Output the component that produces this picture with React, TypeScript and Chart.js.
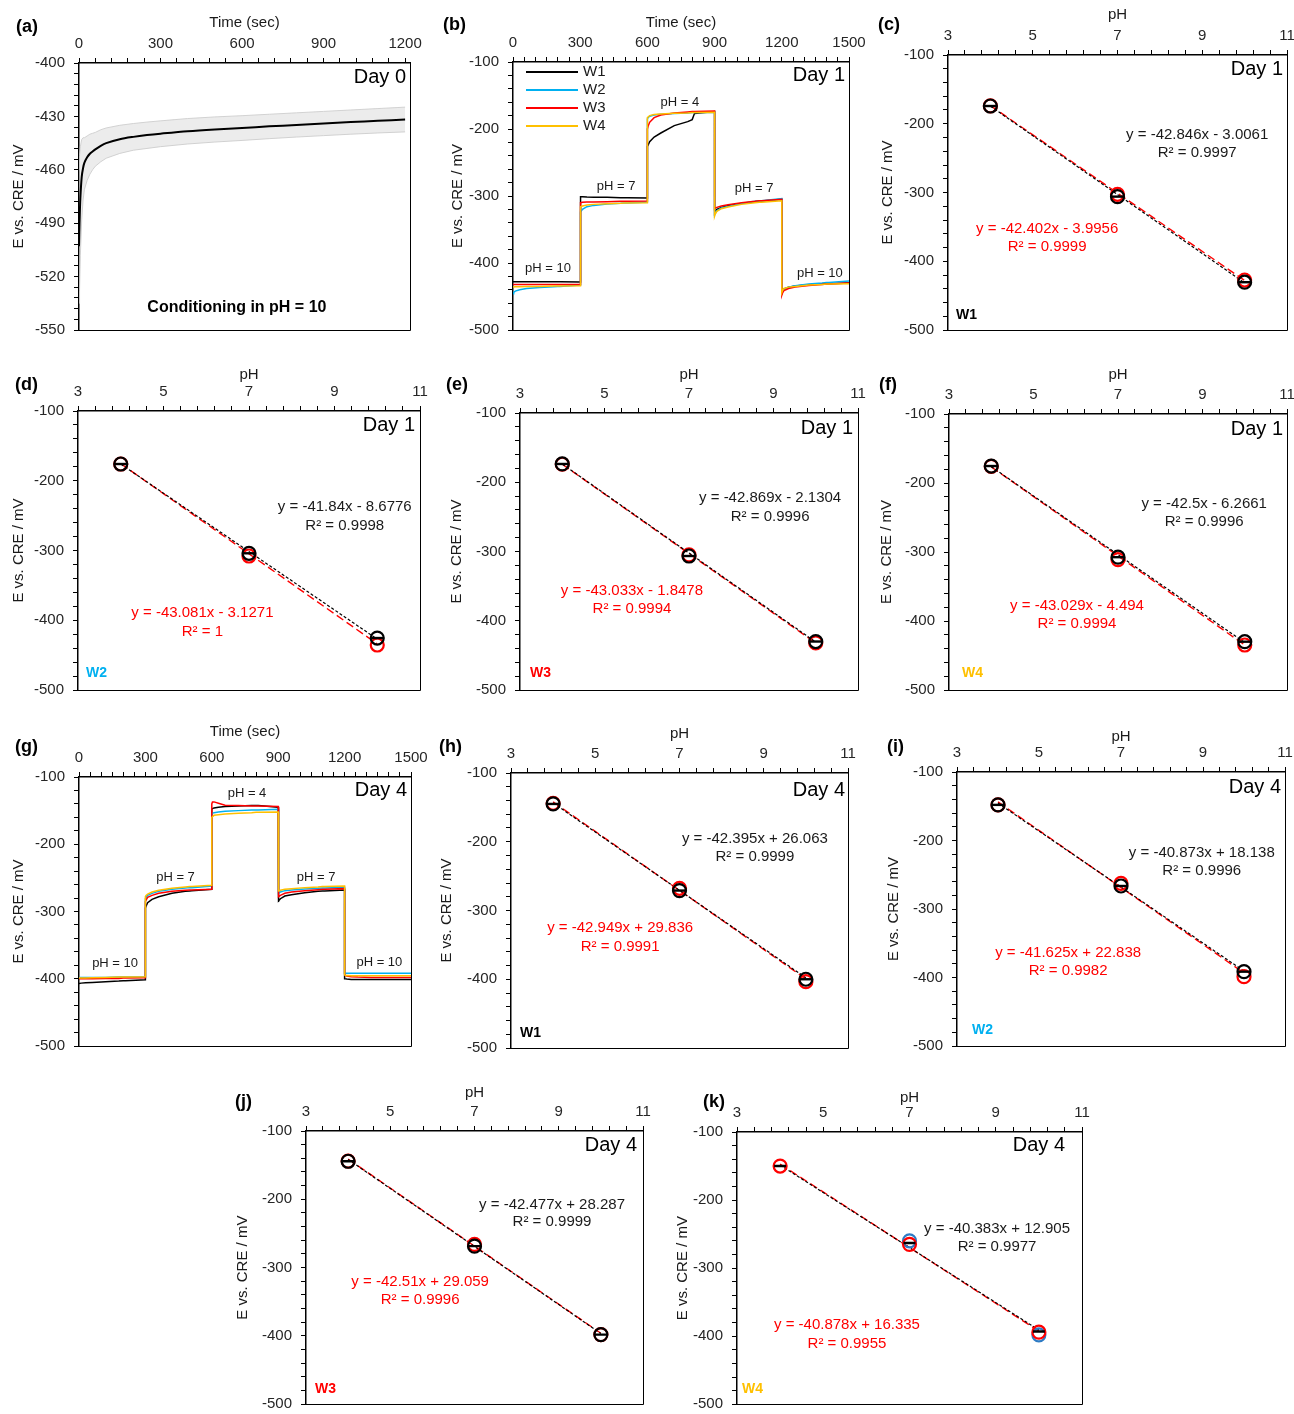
import React, { useEffect, useRef } from "react";
import { Chart, registerables } from "chart.js";

Chart.register(...registerables);

const FONT = "Arial, 'Liberation Sans', Helvetica, sans-serif";
const INK = "#1a1a1a";
const TICK_INK = "#262626";
const RED = "#ff0000";
const W_COLORS = ["#000000", "#00b0f0", "#ff0000", "#ffc000"];
const W_NAMES = ["W1", "W2", "W3", "W4"];
const BLUE_MARK = "#2e7bc4";

// ---------- (a) conditioning, Day 0 ----------
const A_TIME = [0, 2, 5, 10, 15, 20, 30, 40, 50, 60, 80, 100, 150, 200, 250, 300, 400, 500, 600, 700, 800, 900, 1000, 1100, 1200];
const A_MEAN = [-503, -490, -476, -464, -459, -456, -453, -451, -449.7, -448.5, -446.5, -445, -442.8, -441.5, -440.5, -439.7, -438.3, -437.3, -436.5, -435.6, -434.8, -434, -433.2, -432.5, -431.8];
const A_UPPER = [-460, -452, -447, -443, -442, -442, -441, -440, -439.5, -439, -437.5, -436.5, -435, -434, -433.2, -432.5, -431.2, -430.3, -429.6, -428.8, -428, -427.2, -426.4, -425.6, -424.8];
const A_LOWER = [-535, -528, -508, -488, -477, -471, -466, -462.5, -460, -458, -455.5, -453.5, -450.8, -449, -448, -447, -445.5, -444.4, -443.5, -442.5, -441.6, -440.8, -440, -439.3, -438.7];

// ---------- (b) / (g) pH step series ----------
const STEP_TIME = [
  0, 3, 10, 30, 60, 120, 180, 200, 210, 300,
  300, 303, 310, 330, 360, 420, 480, 500, 510, 600,
  600, 603, 610, 630, 660, 720, 780, 800, 810, 900,
  900, 903, 910, 930, 960, 1020, 1080, 1100, 1110, 1200,
  1200, 1203, 1210, 1230, 1260, 1320, 1380, 1400, 1410, 1500,
];
const B_W1 = [
  -428, -428, -428, -428, -428, -428, -428, -428, -428, -428.5,
  -301, -301, -301, -301.5, -302, -302, -302.5, -302.5, -302.5, -303,
  -226, -224, -219, -212, -206, -195, -189, -186, -177, -174,
  -325, -323, -320, -317, -314.5, -311, -308.5, -307.5, -307.5, -305,
  -443, -441, -438.5, -436, -434.5, -432.5, -431.5, -431, -431, -430,
];
const B_W2 = [
  -446, -444, -442, -440, -438, -436.5, -435.5, -435, -435, -433,
  -326, -324, -320, -316, -314, -312, -311, -310.5, -310.5, -309,
  -185, -183, -181, -179, -178, -177, -176, -175.5, -175.5, -175,
  -328, -326, -322, -318, -315.5, -311, -308, -307, -307, -304,
  -445, -442, -439, -436, -434, -431.5, -430, -429, -429, -427,
];
const B_W3 = [
  -432, -432, -432, -432, -432, -432, -432, -432, -432, -432,
  -310, -310, -309.5, -309, -309, -308.5, -308, -308, -308, -307.5,
  -200, -196, -190, -183, -179, -176, -174.5, -174, -174, -173,
  -319, -318, -317, -315, -313, -310, -308, -307, -307, -305,
  -448, -445, -441, -438, -436, -433.5, -432, -431.5, -431.5, -430,
];
const B_W4 = [
  -436, -436, -435.5, -435.5, -435, -435, -434.5, -434.5, -434.5, -434,
  -317, -316, -315, -313.5, -312.5, -311.5, -311, -310.5, -310.5, -310,
  -183, -182, -180, -178.5, -177.5, -176.5, -176, -175.5, -175.5, -175,
  -330, -327, -323, -319, -316.5, -312.5, -310, -309.5, -309.5, -307,
  -444, -441, -438, -436, -435, -433, -432, -431.5, -431.5, -431,
];
const G_W1 = [
  -407, -407, -406.5, -406, -405.5, -404.5, -403.5, -403, -403, -401.5,
  -295, -292, -287, -282, -278, -273, -270, -269.5, -269, -267,
  -148, -147, -146, -145, -144, -143, -142.5, -142.5, -142.5, -145,
  -286, -284, -281, -277, -275, -272, -270, -269.5, -269.5, -268,
  -400, -400, -400.5, -401, -401, -401, -401, -401, -401, -401,
];
const G_W2 = [
  -398, -398, -398, -398, -398, -398, -397.5, -397.5, -397.5, -397,
  -281, -279, -276, -273, -270, -267, -265, -264.5, -264.5, -262,
  -155, -154, -153, -152, -151, -150, -149, -149, -149, -148,
  -274, -273, -271, -269, -268, -266.5, -265.5, -265, -265, -264,
  -392, -392, -392, -392, -392, -392, -392, -392, -392, -392,
];
const G_W3 = [
  -400, -400, -400, -400, -400, -399.5, -399.5, -399, -399, -398.5,
  -285, -283, -279, -276, -273, -270, -268.5, -268, -268, -267,
  -140, -137, -137, -139, -142, -142.5, -143, -143, -143, -144,
  -279, -278, -276, -273, -271, -269, -267.5, -267, -267, -266,
  -393, -395, -396, -397, -397.5, -398, -398, -398, -398, -398,
];
const G_W4 = [
  -399, -399, -399, -399, -398.5, -398, -397.5, -397.5, -397.5, -397,
  -278, -276, -274, -271, -268.5, -265.5, -263.5, -263, -263, -261,
  -160, -159, -157, -156, -155, -154, -153, -152.5, -152.5, -152,
  -270, -269.5, -268.5, -267, -266, -264.5, -263.5, -263, -263, -262,
  -394, -395, -395, -395.5, -395.5, -395.5, -395.5, -395.5, -395.5, -395.5,
];

// ---------- calibration panels ----------
const PH_LEVELS = [4, 7, 10];
const FIT_X = [4, 10];
const K_BLUE_X = [7, 10];

const C_BLACK = [-174.2, -306, -430.5];
const C_RED = [-174, -302.6, -427.3];
const C_FIT_BLACK = [-174.4, -431.5];
const C_FIT_RED = [-173.6, -428.0];
const C_EQ_BLACK = ["y = -42.846x - 3.0061", "R² = 0.9997"];
const C_EQ_RED = ["y = -42.402x - 3.9956", "R² = 0.9999"];

const D_BLACK = [-176, -304, -425.5];
const D_RED = [-176, -307.9, -435.5];
const D_FIT_BLACK = [-176.0, -427.1];
const D_FIT_RED = [-175.5, -433.9];
const D_EQ_BLACK = ["y = -41.84x - 8.6776", "R² = 0.9998"];
const D_EQ_RED = ["y = -43.081x - 3.1271", "R² = 1"];

const E_BLACK = [-173.6, -306.5, -430];
const E_RED = [-174, -305, -432];
const E_FIT_BLACK = [-173.6, -430.8];
const E_FIT_RED = [-174.0, -432.2];
const E_EQ_BLACK = ["y = -42.869x - 2.1304", "R² = 0.9996"];
const E_EQ_RED = ["y = -43.033x - 1.8478", "R² = 0.9994"];

const F_BLACK = [-175.4, -307.5, -430];
const F_RED = [-176, -311, -434.8];
const F_FIT_BLACK = [-176.3, -431.3];
const F_FIT_RED = [-176.6, -434.8];
const F_EQ_BLACK = ["y = -42.5x - 6.2661", "R² = 0.9996"];
const F_EQ_RED = ["y = -43.029x - 4.494", "R² = 0.9994"];

const H_BLACK = [-145, -271, -400];
const H_RED = [-144, -267.7, -403.5];
const H_FIT_BLACK = [-143.5, -397.9];
const H_FIT_RED = [-142.0, -399.6];
const H_EQ_BLACK = ["y = -42.395x + 26.063", "R² = 0.9999"];
const H_EQ_RED = ["y = -42.949x + 29.836", "R² = 0.9991"];

const I_BLACK = [-148, -266.4, -391.5];
const I_RED = [-148, -262.5, -398.8];
const I_FIT_BLACK = [-145.4, -390.6];
const I_FIT_RED = [-143.7, -393.4];
const I_EQ_BLACK = ["y = -40.873x + 18.138", "R² = 0.9996"];
const I_EQ_RED = ["y = -41.625x + 22.838", "R² = 0.9982"];

const J_BLACK = [-144.3, -268.5, -398];
const J_RED = [-144, -266, -398];
const J_FIT_BLACK = [-141.6, -396.5];
const J_FIT_RED = [-141.0, -396.0];
const J_EQ_BLACK = ["y = -42.477x + 28.287", "R² = 0.9999"];
const J_EQ_RED = ["y = -42.51x + 29.059", "R² = 0.9996"];

const K_BLACK = [-150, -263, -393];
const K_RED = [-150, -265, -394];
const K_BLUE = [-260, -398];
const K_FIT_BLACK = [-148.6, -390.9];
const K_FIT_RED = [-147.2, -392.5];
const K_EQ_BLACK = ["y = -40.383x + 12.905", "R² = 0.9977"];
const K_EQ_RED = ["y = -40.878x + 16.335", "R² = 0.9955"];

// ---------- layout helpers ----------
const ML = 80, MT = 62, MR = 20, MB = 12;

type AxisSpec = { min: number; max: number; major: number; minor: number; title: string; titleD: number };

const T = (text: string, at: string, x: number, y: number, color: string, size: number, bold = false, align: CanvasTextAlign = "center") =>
  ({ kind: "text", text, at, x, y, color, size, bold, align });

function axisOptions(ax: AxisSpec, pos: "top" | "left", size: number) {
  const horizontal = pos === "top";
  return {
    type: "linear",
    position: pos,
    min: ax.min,
    max: ax.max,
    afterBuildTicks: (scale: any) => {
      const out: any[] = [];
      const n = Math.floor((ax.max - ax.min) / ax.minor + 1e-6);
      for (let i = 0; i <= n; i++) out.push({ value: +(ax.min + i * ax.minor).toFixed(6) });
      scale.ticks = out;
    },
    afterFit: (scale: any) => {
      if (horizontal) scale.height = size;
      else scale.width = size;
      scale.paddingLeft = 0;
      scale.paddingRight = 0;
      scale.paddingTop = 0;
      scale.paddingBottom = 0;
    },
    ticks: {
      autoSkip: false,
      maxRotation: 0,
      minRotation: 0,
      padding: horizontal ? 5 : 9,
      color: TICK_INK,
      font: { family: FONT, size: 15 },
      callback: (v: any) => {
        const k = (Number(v) - ax.min) / ax.major;
        return Math.abs(k - Math.round(k)) < 1e-6 ? String(Math.round(Number(v) * 1000) / 1000) : "";
      },
    },
    grid: { display: true, drawOnChartArea: false, drawTicks: true, tickLength: 5, color: "#000", lineWidth: 1 },
    border: { display: true, color: "#000", width: 1.5 },
    title: {
      display: true,
      text: ax.title,
      color: INK,
      font: { family: FONT, size: 15 },
      padding: { top: size - ax.titleD - 9, bottom: 0 },
    },
  };
}

function overlayPlugin(items: any[]) {
  return {
    id: "overlay",
    afterDraw(chart: any) {
      const { ctx, chartArea: a, scales } = chart;
      ctx.save();
      ctx.strokeStyle = "#000";
      ctx.lineWidth = 1;
      const r = Math.round(a.right) + 0.5;
      const b = Math.round(a.bottom) + 0.5;
      ctx.beginPath();
      ctx.moveTo(a.left, b);
      ctx.lineTo(r, b);
      ctx.lineTo(r, a.top);
      ctx.stroke();
      for (const it of items) {
        const pos = (x: number, y: number, at: string) => {
          if (at === "data") return [scales.x.getPixelForValue(x), scales.y.getPixelForValue(y)];
          if (at === "tr") return [a.right + x, a.top + y];
          if (at === "bl") return [a.left + x, a.bottom + y];
          return [a.left + x, a.top + y];
        };
        if (it.kind === "line") {
          const [x1, y1] = pos(it.x1, it.y, it.at);
          const [x2] = pos(it.x2, it.y, it.at);
          ctx.strokeStyle = it.color;
          ctx.lineWidth = 1.8;
          ctx.beginPath();
          ctx.moveTo(x1, y1);
          ctx.lineTo(x2, y1);
          ctx.stroke();
        } else {
          const [px, py] = pos(it.x, it.y, it.at);
          ctx.fillStyle = it.color;
          ctx.font = `${it.bold ? "bold " : ""}${it.size}px ${FONT}`;
          ctx.textAlign = it.align;
          ctx.textBaseline = "middle";
          ctx.fillText(it.text, px, py);
        }
      }
      ctx.restore();
    },
  };
}

const pts = (xs: number[], ys: number[]) => ys.map((y, i) => ({ x: xs[i], y }));

const PH_AXIS = (titleD: number): AxisSpec => ({ min: 3, max: 11, major: 2, minor: 0.4, title: "pH", titleD });
const E_AXIS = (titleD: number): AxisSpec => ({ min: -500, max: -100, major: 100, minor: 20, title: "E vs. CRE / mV", titleD });

function stepDatasets(series: number[][]) {
  return () =>
    series.map((s, i) => ({
      label: W_NAMES[i],
      data: pts(STEP_TIME, s),
      borderColor: W_COLORS[i],
      backgroundColor: W_COLORS[i],
      borderWidth: 1.5,
      pointRadius: 0,
      tension: 0,
      fill: false,
      order: 4 - i,
    }));
}

function calPanel(o: any) {
  const makeDatasets = () => {
    const ds: any[] = [
      {
        label: "red fit",
        data: pts(FIT_X, o.fitRed),
        borderColor: RED,
        borderWidth: 1.4,
        borderDash: [8, 4],
        pointRadius: 0,
        fill: false,
        order: 9,
      },
      {
        label: "black fit",
        data: pts(FIT_X, o.fitBlack),
        borderColor: "#000",
        borderWidth: 1.2,
        borderDash: [3, 2],
        pointRadius: 0,
        fill: false,
        order: 8,
      },
    ];
    if (o.blue) {
      ds.push({
        label: "blue",
        data: pts(K_BLUE_X, o.blue),
        showLine: false,
        pointStyle: "circle",
        pointRadius: 6.5,
        pointBorderColor: BLUE_MARK,
        pointBorderWidth: 2.2,
        pointBackgroundColor: "rgba(0,0,0,0)",
        order: 7,
      });
    }
    ds.push({
      label: "red",
      data: pts(PH_LEVELS, o.red),
      showLine: false,
      pointStyle: "circle",
      pointRadius: 6.5,
      pointBorderColor: RED,
      pointBorderWidth: 2.2,
      pointBackgroundColor: "rgba(0,0,0,0)",
      order: 6,
    });
    if (!o.noBlackCircle) {
      ds.push({
        label: "black",
        data: pts(PH_LEVELS, o.black),
        showLine: false,
        pointStyle: "circle",
        pointRadius: 6.5,
        pointBorderColor: "#000",
        pointBorderWidth: 2.2,
        pointBackgroundColor: "rgba(0,0,0,0)",
        order: 5,
      });
    }
    ds.push({
      label: "black bar",
      data: pts(PH_LEVELS, o.black),
      showLine: false,
      pointStyle: "line",
      pointRadius: 6,
      pointBorderColor: "#000",
      pointBorderWidth: 2.4,
      order: 4,
    });
    return ds;
  };
  const items = [
    T(o.letter, "tl", o.letterOff[0], o.letterOff[1], "#000", 18, true, "left"),
    T(o.day, "tr", o.dayOff[0], o.dayOff[1], "#000", 20, false, "right"),
    T(o.w, "bl", o.wOff[0], o.wOff[1], o.wColor, 14, true, "left"),
    T(o.eqB[0], "data", o.eqBPos[0], o.eqBPos[1], INK, 15),
    T(o.eqB[1], "data", o.eqBPos[0], o.eqBPos[2], INK, 15),
    T(o.eqR[0], "data", o.eqRPos[0], o.eqRPos[1], RED, 15),
    T(o.eqR[1], "data", o.eqRPos[0], o.eqRPos[2], RED, 15),
  ];
  return {
    id: o.id,
    box: o.box,
    mb: o.mb,
    x: PH_AXIS(o.xD),
    y: E_AXIS(o.yD),
    makeDatasets,
    items,
  };
}

const LEGEND_ITEMS = W_NAMES.flatMap((n, i) => [
  { kind: "line", at: "tl", x1: 13, x2: 65, y: 10 + i * 18, color: W_COLORS[i] },
  T(n, "tl", 70, 10 + i * 18, INK, 15, false, "left"),
]);

const PANELS: any[] = [
  {
    id: "a",
    box: [79, 63, 410, 330],
    x: { min: 0, max: 1218, major: 300, minor: 60, title: "Time (sec)", titleD: 40 },
    y: { min: -550, max: -400, major: 30, minor: 6, title: "E vs. CRE / mV", titleD: 60 },
    makeDatasets: () => [
      {
        label: "mean + SD",
        data: pts(A_TIME, A_UPPER),
        borderColor: "rgba(205,205,205,0.9)",
        borderWidth: 1,
        pointRadius: 0,
        fill: false,
        order: 3,
      },
      {
        label: "mean - SD",
        data: pts(A_TIME, A_LOWER),
        borderColor: "rgba(205,205,205,0.9)",
        backgroundColor: "rgba(210,210,210,0.42)",
        borderWidth: 1,
        pointRadius: 0,
        fill: "-1",
        order: 2,
      },
      {
        label: "mean",
        data: pts(A_TIME, A_MEAN),
        borderColor: "#000",
        borderWidth: 2,
        pointRadius: 0,
        tension: 0.3,
        fill: false,
        order: 1,
      },
    ],
    items: [
      T("(a)", "tl", -63, -36, "#000", 18, true, "left"),
      T("Day 0", "tr", -4, 14, "#000", 20, false, "right"),
      T("Conditioning in pH = 10", "data", 581, -537.6, "#000", 16, true),
    ],
  },
  {
    id: "b",
    box: [513, 62, 849, 330],
    x: { min: 0, max: 1500, major: 300, minor: 50, title: "Time (sec)", titleD: 39.5 },
    y: E_AXIS(55),
    makeDatasets: stepDatasets([B_W1, B_W2, B_W3, B_W4]),
    items: [
      T("(b)", "tl", -70, -37, "#000", 18, true, "left"),
      T("Day 1", "tr", -4, 13, "#000", 20, false, "right"),
      T("pH = 10", "data", 156, -407.5, INK, 13),
      T("pH = 7", "data", 460, -285, INK, 13),
      T("pH = 4", "data", 745, -159.7, INK, 13),
      T("pH = 7", "data", 1076, -288, INK, 13),
      T("pH = 10", "data", 1370, -415, INK, 13),
      ...LEGEND_ITEMS,
    ],
  },
  calPanel({
    id: "c", box: [948, 55, 1287, 330], letter: "(c)", letterOff: [-70, -30], xD: 40, yD: 60,
    day: "Day 1", dayOff: [-4, 14], w: "W1", wColor: W_COLORS[0], wOff: [8, -15],
    black: C_BLACK, red: C_RED, fitBlack: C_FIT_BLACK, fitRed: C_FIT_RED,
    eqB: C_EQ_BLACK, eqBPos: [8.88, -216.4, -242.5], eqR: C_EQ_RED, eqRPos: [5.34, -353, -379],
  }),
  calPanel({
    id: "d", box: [78, 411, 420, 690], letter: "(d)", letterOff: [-63, -26], xD: 36, yD: 59,
    day: "Day 1", dayOff: [-5, 14], w: "W2", wColor: W_COLORS[1], wOff: [8, -17],
    black: D_BLACK, red: D_RED, fitBlack: D_FIT_BLACK, fitRed: D_FIT_RED,
    eqB: D_EQ_BLACK, eqBPos: [9.24, -237.6, -265], eqR: D_EQ_RED, eqRPos: [5.91, -389.6, -416.8],
  }),
  calPanel({
    id: "e", box: [520, 413, 858, 690], letter: "(e)", letterOff: [-74, -28], xD: 38, yD: 63,
    day: "Day 1", dayOff: [-5, 15], w: "W3", wColor: W_COLORS[2], wOff: [10, -17],
    black: E_BLACK, red: E_RED, fitBlack: E_FIT_BLACK, fitRed: E_FIT_RED,
    eqB: E_EQ_BLACK, eqBPos: [8.92, -222.7, -250], eqR: E_EQ_RED, eqRPos: [5.65, -357, -383],
  }),
  calPanel({
    id: "f", box: [949, 414, 1287, 690], letter: "(f)", letterOff: [-70, -29], xD: 39, yD: 62,
    day: "Day 1", dayOff: [-4, 15], w: "W4", wColor: W_COLORS[3], wOff: [13, -17],
    black: F_BLACK, red: F_RED, fitBlack: F_FIT_BLACK, fitRed: F_FIT_RED,
    eqB: F_EQ_BLACK, eqBPos: [9.04, -230, -256.5], eqR: F_EQ_RED, eqRPos: [6.03, -378, -404],
  }),
  {
    id: "g",
    box: [79, 777, 411, 1046],
    x: { min: 0, max: 1500, major: 300, minor: 50, title: "Time (sec)", titleD: 45 },
    y: E_AXIS(60),
    makeDatasets: stepDatasets([G_W1, G_W2, G_W3, G_W4]),
    items: [
      T("(g)", "tl", -64, -30, "#000", 18, true, "left"),
      T("Day 4", "tr", -4, 13, "#000", 20, false, "right"),
      T("pH = 10", "data", 163, -376.6, INK, 13),
      T("pH = 7", "data", 436, -248.7, INK, 13),
      T("pH = 4", "data", 759, -123.8, INK, 13),
      T("pH = 7", "data", 1071, -248.7, INK, 13),
      T("pH = 10", "data", 1357, -375, INK, 13),
    ],
  },
  calPanel({
    id: "h", box: [511, 773, 848, 1048], letter: "(h)", letterOff: [-72, -26], xD: 39, yD: 64,
    day: "Day 4", dayOff: [-3, 17], w: "W1", wColor: W_COLORS[0], wOff: [9, -15],
    black: H_BLACK, red: H_RED, fitBlack: H_FIT_BLACK, fitRed: H_FIT_RED,
    eqB: H_EQ_BLACK, eqBPos: [8.79, -196, -222], eqR: H_EQ_RED, eqRPos: [5.59, -325.5, -353],
  }),
  calPanel({
    id: "i", box: [957, 772, 1285, 1046], letter: "(i)", letterOff: [-70, -25], xD: 35, yD: 63,
    day: "Day 4", dayOff: [-4, 15], w: "W2", wColor: W_COLORS[1], wOff: [15, -16],
    black: I_BLACK, red: I_RED, fitBlack: I_FIT_BLACK, fitRed: I_FIT_RED,
    eqB: I_EQ_BLACK, eqBPos: [8.97, -218, -244.5], eqR: I_EQ_RED, eqRPos: [5.71, -364, -390.5],
  }),
  calPanel({
    id: "j", box: [306, 1131, 643, 1408], mb: 5, letter: "(j)", letterOff: [-71, -29], xD: 38, yD: 63,
    day: "Day 4", dayOff: [-6, 14], w: "W3", wColor: W_COLORS[2], wOff: [9, -15],
    black: J_BLACK, red: J_RED, fitBlack: J_FIT_BLACK, fitRed: J_FIT_RED,
    eqB: J_EQ_BLACK, eqBPos: [8.84, -208, -233], eqR: J_EQ_RED, eqRPos: [5.71, -321, -347],
  }),
  calPanel({
    id: "k", box: [737, 1132, 1082, 1408], mb: 5, letter: "(k)", letterOff: [-34, -30], xD: 34, yD: 54,
    day: "Day 4", dayOff: [-17, 13], w: "W4", wColor: W_COLORS[3], wOff: [5, -15],
    black: K_BLACK, red: K_RED, blue: K_BLUE, noBlackCircle: true, fitBlack: K_FIT_BLACK, fitRed: K_FIT_RED,
    eqB: K_EQ_BLACK, eqBPos: [9.03, -242, -268], eqR: K_EQ_RED, eqRPos: [5.55, -384, -411.5],
  }),
];

function ChartPanel({ spec }: { spec: any }) {
  const ref = useRef<HTMLCanvasElement | null>(null);
  const [x0, y0, x1, y1] = spec.box;
  const mb = spec.mb ?? MB;
  const w = x1 - x0 + ML + MR;
  const h = y1 - y0 + MT + mb;

  useEffect(() => {
    if (!ref.current) return;
    const chart = new Chart(ref.current, {
      type: "line",
      data: { datasets: spec.makeDatasets() },
      options: {
        responsive: false,
        maintainAspectRatio: false,
        animation: false,
        devicePixelRatio: 1,
        events: [],
        layout: { padding: { left: 0, top: 0, right: MR, bottom: mb } },
        plugins: { legend: { display: false }, tooltip: { enabled: false } },
        scales: {
          x: axisOptions(spec.x, "top", MT),
          y: axisOptions(spec.y, "left", ML),
        },
      } as any,
      plugins: [overlayPlugin(spec.items)],
    } as any);
    return () => chart.destroy();
  }, []);

  return (
    <canvas
      ref={ref}
      width={w}
      height={h}
      style={{ position: "absolute", left: x0 - ML, top: y0 - MT, width: w, height: h }}
    />
  );
}

export default function App() {
  return (
    <div
      style={{
        position: "absolute",
        left: 0,
        top: 0,
        width: 1294,
        height: 1414,
        overflow: "hidden",
        background: "#fff",
      }}
    >
      {PANELS.map((p) => (
        <ChartPanel key={p.id} spec={p} />
      ))}
    </div>
  );
}
